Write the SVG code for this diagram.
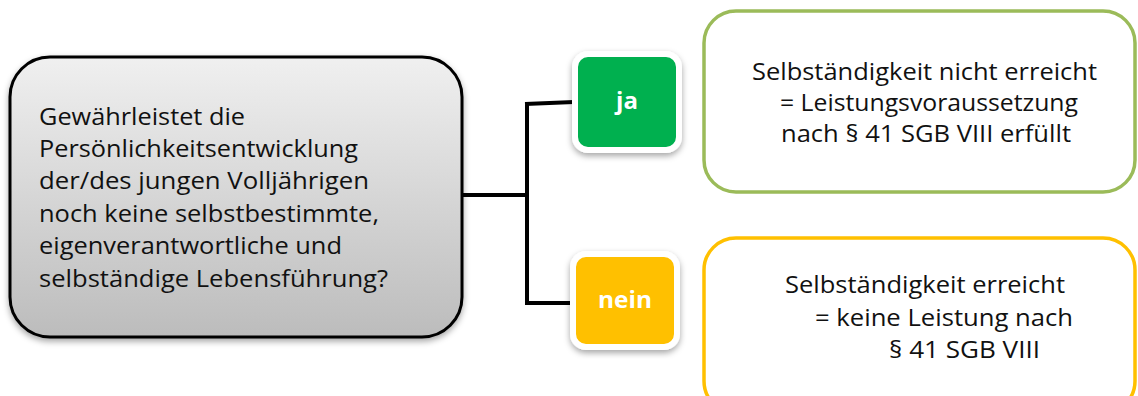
<svg xmlns="http://www.w3.org/2000/svg" width="1138" height="396" viewBox="0 0 1138 396">
  <style>
    .t { font-family: "Open Sans", "Noto Sans", "Liberation Sans", sans-serif; font-size: 23.5px; fill: #111; }
    .lbl { font-family: "Open Sans", "Noto Sans", "Liberation Sans", sans-serif; font-size: 24px; font-weight: bold; fill: #fff; text-anchor: middle; }
    .conn { fill: none; stroke: #000; stroke-width: 4; stroke-linejoin: miter; }
  </style>
  <defs>
    <linearGradient id="gray" x1="0" y1="0" x2="0" y2="1">
      <stop offset="0" stop-color="#f0f0f0"/>
      <stop offset="1" stop-color="#bcbcbc"/>
    </linearGradient>
    <filter id="sh" x="-10%" y="-10%" width="120%" height="130%">
      <feDropShadow dx="0" dy="3" stdDeviation="3" flood-color="#000" flood-opacity="0.35"/>
    </filter>
  </defs>

  <g id="connectors">
    <path class="conn" d="M462 195 H527"/>
    <path class="conn" d="M527 105 V303"/>
    <path class="conn" d="M525 104 L574 102"/>
    <path class="conn" d="M525 303 H572"/>
  </g>

  <g id="question">
    <rect x="10" y="57" width="452" height="280" rx="40" ry="40" fill="url(#gray)" stroke="#000" stroke-width="3" filter="url(#sh)"/>
    <text class="t">
      <tspan x="39" y="125" textLength="206" lengthAdjust="spacingAndGlyphs">Gewährleistet die</tspan>
      <tspan x="39" y="157" textLength="319" lengthAdjust="spacingAndGlyphs">Persönlichkeitsentwicklung</tspan>
      <tspan x="39" y="189" textLength="330" lengthAdjust="spacingAndGlyphs">der/des jungen Volljährigen</tspan>
      <tspan x="39" y="222" textLength="340" lengthAdjust="spacingAndGlyphs">noch keine selbstbestimmte,</tspan>
      <tspan x="39" y="254" textLength="303" lengthAdjust="spacingAndGlyphs">eigenverantwortliche und</tspan>
      <tspan x="39" y="287" textLength="349" lengthAdjust="spacingAndGlyphs">selbständige Lebensführung?</tspan>
    </text>
  </g>

  <g id="ja">
    <rect x="575" y="54" width="104" height="96" rx="13" fill="#00b050" stroke="#fff" stroke-width="6" filter="url(#sh)"/>
    <text class="lbl" x="627" y="109">ja</text>
  </g>

  <g id="nein">
    <rect x="573" y="254" width="104" height="93" rx="13" fill="#ffc000" stroke="#fff" stroke-width="6" filter="url(#sh)"/>
    <text class="lbl" x="625" y="308" textLength="54" lengthAdjust="spacingAndGlyphs">nein</text>
  </g>

  <g id="result-ja">
    <rect x="704" y="11" width="431" height="181" rx="32" fill="#fff" stroke="#9bbb59" stroke-width="3.5"/>
    <text class="t">
      <tspan x="752" y="80" textLength="345" lengthAdjust="spacingAndGlyphs">Selbständigkeit nicht erreicht</tspan>
      <tspan x="780" y="111" textLength="298" lengthAdjust="spacingAndGlyphs">= Leistungsvoraussetzung</tspan>
      <tspan x="781" y="142" textLength="290" lengthAdjust="spacingAndGlyphs">nach § 41 SGB VIII erfüllt</tspan>
    </text>
  </g>

  <g id="result-nein">
    <rect x="704" y="238" width="431" height="175" rx="32" fill="#fff" stroke="#ffc000" stroke-width="3.5"/>
    <text class="t">
      <tspan x="785" y="293" textLength="280" lengthAdjust="spacingAndGlyphs">Selbständigkeit erreicht</tspan>
      <tspan x="815" y="326" textLength="258" lengthAdjust="spacingAndGlyphs">= keine Leistung nach</tspan>
      <tspan x="889" y="358" textLength="151" lengthAdjust="spacingAndGlyphs">§ 41 SGB VIII</tspan>
    </text>
  </g>
</svg>
